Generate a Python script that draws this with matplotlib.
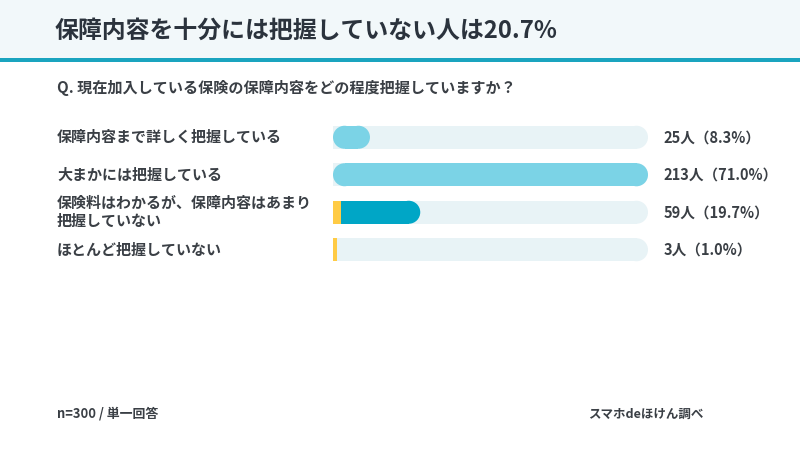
import matplotlib.pyplot as plt
from matplotlib.patches import Ellipse, Rectangle
from matplotlib.transforms import blended_transform_factory

plt.rcParams['font.family'] = ['Noto Sans CJK JP', 'DejaVu Sans']

# data
title = '保障内容を十分には把握していない人は20.7%'
question = 'Q. 現在加入している保険の保障内容をどの程度把握していますか？'
categories = ['保障内容まで詳しく把握している',
              '大まかには把握している',
              '保険料はわかるが、保障内容はあまり\n把握していない',
              'ほとんど把握していない']
counts = [25, 213, 59, 3]
percents = [8.3, 71.0, 19.7, 1.0]
highlight = [False, False, True, True]
footer_left = 'n=300 / 単一回答'
footer_right = 'スマホdeほけん調べ'

# styles
W, H = 800, 450
light = '#7BD3E6'
dark = '#00A6C6'
yellow = '#FFCB45'
track = '#E8F3F6'
text_dark = '#2B333D'
text_mid = '#3A3F45'

fig = plt.figure(figsize=(8, 4.5), dpi=100)

# header band
fig.patches.append(Rectangle((0, 1 - 58 / H), 1, 58 / H, transform=fig.transFigure,
                             facecolor='#F2F8FA', edgecolor='none', zorder=0))
fig.patches.append(Rectangle((0, 1 - 62 / H), 1, 4 / H, transform=fig.transFigure,
                             facecolor='#1AA4BF', edgecolor='none', zorder=1))
fig.text(55 / W, 1 - 31 / H, title, fontsize=17.2, fontweight='bold',
         color=text_dark, va='center', ha='left')
fig.text(57 / W, 1 - 88 / H, question, fontsize=10.9, fontweight='bold',
         color=text_mid, va='center', ha='left')

# bar axes
left_px, right_px = 333, 648
top_px, bot_px = 118.5, 268.5
ax = fig.add_axes([left_px / W, 1 - bot_px / H, (right_px - left_px) / W,
                   (bot_px - top_px) / H])
xmax = max(counts)
ax.set_xlim(0, xmax)
ax.set_ylim(len(counts) - 0.5, -0.5)
ax.axis('off')

px_per_x = (right_px - left_px) / xmax
px_per_y = (bot_px - top_px) / len(counts)
bar_h_px = 23
bh = bar_h_px / px_per_y
rx = (bar_h_px / 2) / px_per_x
accent = 8 / px_per_x


def rounded(ax, x0, x1, y, color, round_left=True, z=2):
    a = x0 + rx if round_left else x0
    b = x1 - rx
    ax.barh(y, b - a, left=a, height=bh, color=color, linewidth=0, zorder=z)
    ax.add_patch(Ellipse((b, y), 2 * rx, bh, facecolor=color, edgecolor='none', zorder=z))
    if round_left:
        ax.add_patch(Ellipse((a, y), 2 * rx, bh, facecolor=color, edgecolor='none', zorder=z))


for i, (c, hl) in enumerate(zip(counts, highlight)):
    rounded(ax, 0, xmax, i, track, round_left=False, z=1)
    if hl:
        acc = min(c, accent)
        ax.barh(i, acc, left=0, height=bh, color=yellow, linewidth=0, zorder=3)
        if c > acc:
            rounded(ax, acc, c, i, dark, round_left=False, z=2)
    else:
        rounded(ax, 0, c, i, light, round_left=True, z=2)

    ax.annotate(f'{c}人（{percents[i]:.1f}%）', xy=(1, i),
                xycoords=ax.get_yaxis_transform(), xytext=(11, 0),
                textcoords='offset points', va='center', ha='left',
                fontsize=10.5, fontweight='bold', color=text_mid)

lab_tr = blended_transform_factory(fig.transFigure, ax.transData)
for i, lab in enumerate(categories):
    ax.text(57 / W, i, lab, transform=lab_tr, va='center', ha='left',
            fontsize=10.8, fontweight='bold', color=text_mid,
            linespacing=1.15)

fig.text(57 / W, 1 - 414 / H, footer_left, fontsize=9.3, fontweight='bold',
         color=text_mid, va='center', ha='left')
fig.text(588 / W, 1 - 414 / H, footer_right, fontsize=9, fontweight='bold',
         color=text_mid, va='center', ha='left')

fig.savefig('out.png', dpi=100, facecolor='white')
